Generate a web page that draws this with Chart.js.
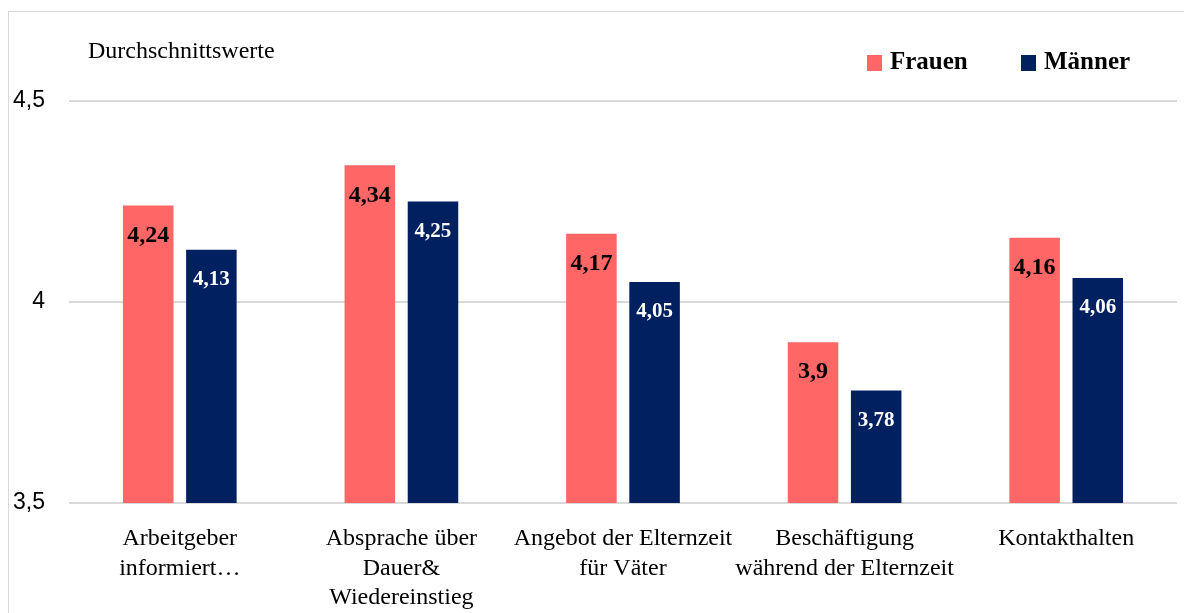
<!DOCTYPE html>
<html>
<head>
<meta charset="utf-8">
<script src="https://cdn.jsdelivr.net/npm/chart.js@4/dist/chart.umd.min.js"></script>
<style>
html,body{margin:0;padding:0;background:#fff;overflow:hidden;}
#frame{position:absolute;left:8px;top:11px;width:1200px;height:640px;border-left:1px solid #d9d9d9;border-top:1px solid #d9d9d9;}
#wrap{position:absolute;left:0;top:0;width:1184px;height:613px;}
</style>
</head>
<body>
<div id="frame"></div>
<div id="wrap"><canvas id="c" width="1184" height="613"></canvas></div>
<script>
const categories = [
  ["Arbeitgeber","informiert…"],
  ["Absprache über","Dauer&","Wiedereinstieg"],
  ["Angebot der Elternzeit","für Väter"],
  ["Beschäftigung","während der Elternzeit"],
  "Kontakthalten"
];
const seriesNames = ["Frauen","Männer"];
const frauen = [4.24, 4.34, 4.17, 3.9, 4.16];
const maenner = [4.13, 4.25, 4.05, 3.78, 4.06];
const yTicks = [3.5, 4, 4.5];
const yTitle = "Durchschnittswerte";

const LSERIF = "'Liberation Serif', 'DejaVu Serif', serif";
const colors = ["#FF6666", "#002060"];
const labelColors = ["#000000", "#ffffff"];
const labelSizes = [24, 21];

const fmt = v => String(v).replace('.', ',');

const overlay = {
  id: 'overlay',
  afterDatasetsDraw(chart) {
    const ctx = chart.ctx;
    ctx.save();
    chart.data.datasets.forEach((ds, di) => {
      const meta = chart.getDatasetMeta(di);
      ctx.fillStyle = labelColors[di];
      ctx.font = "bold " + labelSizes[di] + "px " + LSERIF;
      ctx.textAlign = 'center';
      ctx.textBaseline = 'middle';
      meta.data.forEach((el, i) => {
        ctx.fillText(fmt(ds.data[i]), el.x, el.y + 30);
      });
    });
    // axis title
    ctx.fillStyle = '#000';
    ctx.font = "24px " + LSERIF;
    ctx.textAlign = 'left';
    ctx.textBaseline = 'alphabetic';
    ctx.fillText(yTitle, 88, 58);
    // legend
    const legendX = [867, 1021];
    chart.data.datasets.forEach((ds, di) => {
      const x = legendX[di];
      ctx.fillStyle = colors[di];
      ctx.fillRect(x, 55, 15, 16);
      ctx.fillStyle = '#000';
      ctx.font = "bold 25px " + LSERIF;
      ctx.textAlign = 'left';
      ctx.textBaseline = 'alphabetic';
      ctx.fillText(ds.label, x + 23, 69);
    });
    ctx.restore();
  }
};

new Chart(document.getElementById('c'), {
  type: 'bar',
  data: {
    labels: categories,
    datasets: [
      { label: seriesNames[0], data: frauen, backgroundColor: colors[0] },
      { label: seriesNames[1], data: maenner, backgroundColor: colors[1] }
    ]
  },
  options: {
    responsive: false,
    animation: false,
    events: [],
    layout: { padding: { top: 101, right: 7, left: 0, bottom: 0 } },
    plugins: { legend: { display: false }, tooltip: { enabled: false } },
    datasets: { bar: { barPercentage: 0.8, categoryPercentage: 0.57 } },
    scales: {
      x: {
        grid: { display: false, drawTicks: false },
        border: { display: false },
        afterFit(s) { s.height = 110; },
        ticks: {
          color: '#000',
          padding: 21,
          maxRotation: 0,
          autoSkip: false,
          font: { family: LSERIF, size: 24, lineHeight: 1.23 }
        }
      },
      y: {
        min: 3.5, max: 4.5,
        afterFit(s) { s.width = 69; },
        afterBuildTicks(s) { s.ticks = yTicks.map(v => ({ value: v })); },
        grid: { color: '#d9d9d9', lineWidth: 2, drawTicks: false },
        border: { display: false },
        ticks: {
          color: '#000',
          padding: 24,
          font: { family: "'Liberation Sans', Arial, sans-serif", size: 23 },
          callback: v => fmt(v)
        }
      }
    }
  },
  plugins: [overlay]
});
</script>
</body>
</html>
